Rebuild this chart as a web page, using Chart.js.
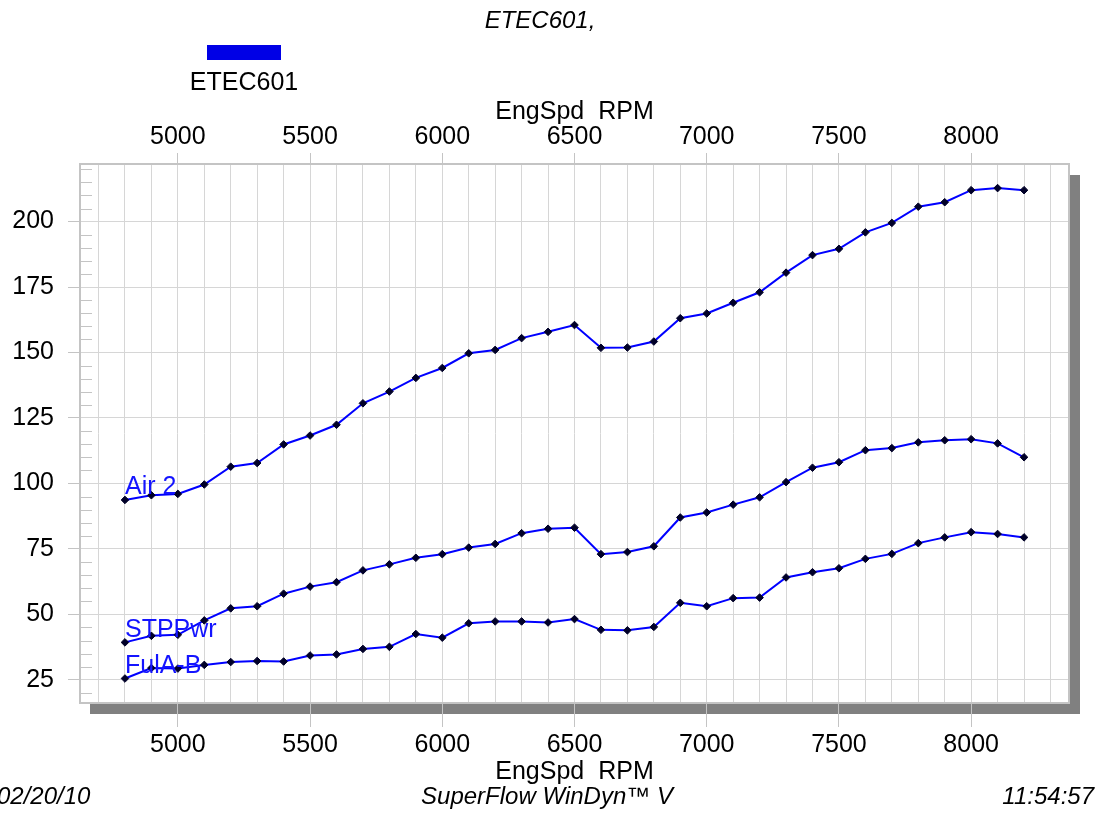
<!DOCTYPE html>
<html>
<head>
<meta charset="utf-8">
<script src="https://cdn.jsdelivr.net/npm/chart.js@4/dist/chart.umd.min.js"></script>
<style>
  body { margin: 0; background: #fff; overflow: hidden; }
</style>
</head>
<body>
<canvas id="dynoChart" width="1102" height="814"></canvas>
<script>
// engine speed for every logged point
const rpm = [4800, 4900, 5000, 5100, 5200, 5300, 5400, 5500, 5600, 5700, 5800, 5900,
             6000, 6100, 6200, 6300, 6400, 6500, 6600, 6700, 6800, 6900, 7000, 7100,
             7200, 7300, 7400, 7500, 7600, 7700, 7800, 7900, 8000, 8100, 8200];

const air2 = [93.7, 95.5, 96.0, 99.6, 106.4, 107.8, 114.9, 118.3, 122.4, 130.6, 135.1, 140.3,
              144.1, 149.7, 151.0, 155.5, 157.9, 160.5, 151.8, 151.9, 154.2, 163.1, 164.9, 169.0,
              173.0, 180.5, 187.2, 189.6, 195.9, 199.5, 205.7, 207.4, 212.0, 212.8, 212.0];

const stpPwr = [39.3, 41.8, 42.2, 47.7, 52.3, 53.1, 57.9, 60.6, 62.3, 66.8, 69.1, 71.6,
                73.0, 75.5, 76.9, 81.0, 82.7, 83.1, 73.0, 73.8, 76.0, 87.0, 88.9, 91.9,
                94.7, 100.5, 106.0, 108.1, 112.7, 113.5, 115.7, 116.5, 116.9, 115.3, 110.0];

const fulAB = [25.5, 29.5, 29.3, 30.7, 31.8, 32.2, 32.0, 34.3, 34.7, 36.8, 37.6, 42.5,
               41.1, 46.6, 47.3, 47.3, 46.9, 48.2, 44.1, 43.9, 45.2, 54.4, 53.1, 56.2,
               56.4, 64.1, 66.1, 67.6, 71.2, 73.1, 77.2, 79.4, 81.4, 80.7, 79.4];

const seriesNames = ['Air 2', 'STPPwr', 'FulA-B'];
const seriesValues = [air2, stpPwr, fulAB];
const runName = 'ETEC601';
const xTitle = 'EngSpd  RPM';

const FONT = "'Liberation Sans', Arial, sans-serif";
const GRID = '#d6d6d6';
const EDGE = '#c4c4c4';

function toPoints(values) {
    return rpm.map((r, i) => ({ x: r, y: values[i] }));
}

// ticks every 100 rpm, labels only every 500
function rpmLabel(value) {
    return value % 500 === 0 ? String(value) : '';
}
function rpmTickColor(ctx) {
    return ctx.tick && ctx.tick.value % 500 === 0 ? EDGE : 'rgba(0,0,0,0)';
}

const decorations = {
    id: 'decorations',
    beforeDraw(chart) {
        const c = chart.ctx;
        const a = chart.chartArea;
        // drop shadow on the right and bottom of the plot
        c.save();
        c.fillStyle = '#808080';
        c.fillRect(a.right + 1, a.top + 11, 10, a.bottom - a.top);
        c.fillRect(a.left + 10, a.bottom + 1, a.right - a.left + 1, 10);
        c.restore();
    },
    afterDraw(chart) {
        const c = chart.ctx;
        const a = chart.chartArea;
        const x = chart.scales.x;
        const y = chart.scales.y;
        c.save();

        // small inside ticks on the left edge every 5 units
        c.strokeStyle = EDGE;
        c.lineWidth = 1;
        for (let v = 20; v <= 220; v += 5) {
            if (v % 25 === 0) continue;
            const py = Math.round(y.getPixelForValue(v)) + 0.5;
            c.beginPath();
            c.moveTo(a.left, py);
            c.lineTo(a.left + 12, py);
            c.stroke();
        }

        // plot frame
        c.strokeStyle = EDGE;
        c.lineWidth = 2;
        c.strokeRect(a.left, a.top, a.right - a.left, a.bottom - a.top);

        // series names at the start of each curve
        c.fillStyle = '#1414ff';
        c.font = '25px ' + FONT;
        c.textAlign = 'left';
        c.textBaseline = 'bottom';
        seriesValues.forEach((vals, i) => {
            const px = x.getPixelForValue(rpm[0]);
            const py = y.getPixelForValue(vals[0]);
            c.fillText(seriesNames[i], px, py);
        });

        // run subtitle
        c.fillStyle = '#000';
        c.textAlign = 'center';
        c.textBaseline = 'middle';
        c.font = 'italic 24px ' + FONT;
        c.fillText(runName + ',', 540, 21);

        // legend: swatch with name underneath
        c.fillStyle = '#0000e6';
        c.fillRect(207, 45, 74, 15);
        c.fillStyle = '#000';
        c.font = '25px ' + FONT;
        c.fillText(runName, 244, 83);

        // footer line
        c.font = 'italic 24px ' + FONT;
        c.textAlign = 'left';
        c.fillText('02/20/10', -3, 797);
        c.textAlign = 'center';
        c.fillText('SuperFlow WinDyn\u2122 V', 547, 797);
        c.textAlign = 'right';
        c.fillText('11:54:57', 1094, 797);
        c.restore();
    }
};

const tickFont = { family: FONT, size: 25 };
const titleFont = { family: FONT, size: 25 };

const ctx = document.getElementById('dynoChart').getContext('2d');
const dynoChart = new Chart(ctx, {
    type: 'line',
    data: {
        datasets: seriesNames.map((name, i) => ({
            label: name,
            data: toPoints(seriesValues[i]),
            xAxisID: 'x',
            yAxisID: 'y',
            borderColor: '#0000ff',
            borderWidth: 2,
            pointStyle: 'rectRot',
            pointRadius: 3.8,
            pointBackgroundColor: '#000028',
            pointBorderColor: '#000028',
            pointBorderWidth: 1,
            tension: 0,
            fill: false
        }))
    },
    options: {
        responsive: false,
        animation: false,
        layout: { padding: { left: 0, right: 33, top: 95, bottom: 27 } },
        plugins: {
            legend: { display: false },
            tooltip: { enabled: false },
            title: { display: false }
        },
        scales: {
            x: {
                type: 'linear',
                position: 'bottom',
                min: 4630,
                max: 8370,
                afterFit(scale) { scale.height = 84; },
                border: { display: false },
                grid: { color: GRID, lineWidth: 1, tickLength: 24, tickColor: rpmTickColor },
                ticks: {
                    stepSize: 100, includeBounds: false, autoSkip: false, maxRotation: 0,
                    padding: 3, color: '#000', font: tickFont,
                    callback: rpmLabel
                },
                title: { display: true, text: xTitle, color: '#000', font: titleFont,
                         padding: { top: 0, bottom: 0 } }
            },
            x2: {
                type: 'linear',
                position: 'top',
                min: 4630,
                max: 8370,
                afterFit(scale) { scale.height = 69; },
                border: { display: false },
                grid: { drawOnChartArea: false, tickLength: 11, tickColor: rpmTickColor },
                ticks: {
                    stepSize: 100, includeBounds: false, autoSkip: false, maxRotation: 0,
                    padding: 1, color: '#000', font: tickFont,
                    callback: rpmLabel
                },
                title: { display: true, text: xTitle, color: '#000', font: titleFont,
                         padding: { top: 2, bottom: 0 } }
            },
            y: {
                type: 'linear',
                position: 'left',
                min: 16.15,
                max: 222,
                afterFit(scale) { scale.width = 80; },
                border: { display: false },
                grid: { color: GRID, lineWidth: 1, tickLength: 12, tickColor: EDGE },
                ticks: {
                    stepSize: 25, includeBounds: false, padding: 14,
                    color: '#000', font: tickFont
                }
            }
        }
    },
    plugins: [decorations]
});
</script>
</body>
</html>
